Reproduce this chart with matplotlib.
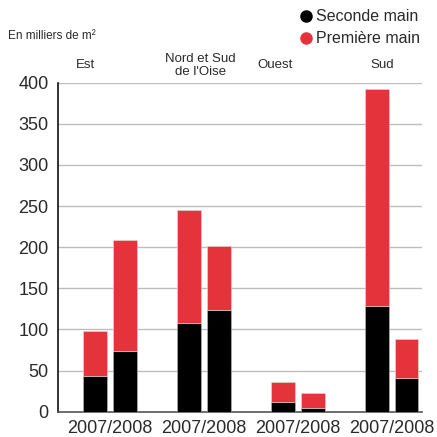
import matplotlib
matplotlib.use("Agg")
import matplotlib.pyplot as plt
import numpy as np

plt.rcParams['font.family'] = ['Liberation Sans', 'DejaVu Sans']

regions = ["Est", "Nord et Sud\nde l'Oise", "Ouest", "Sud"]
period_label = "2007/2008"
# two bars per region: seconde main (bottom) and première main (stacked on top)
seconde_main = [[44, 74], [108, 124], [12, 5], [129, 41]]
totals = [[98, 209], [245, 202], [36, 23], [392, 88]]
premiere_main = [[t - s for t, s in zip(tt, ss)] for tt, ss in zip(totals, seconde_main)]
yticks = [0, 50, 100, 150, 200, 250, 300, 350, 400]

RED = "#e5333b"
BLACK = "#000000"
TEXT = "#2a2a2a"

fig = plt.figure(figsize=(4.37, 4.37), dpi=100)
ax = fig.add_axes([0.1334, 0.0579, 0.8323, 0.7529])

group_x = np.arange(len(regions))
offset = 0.155
width = 0.255
for i in range(len(regions)):
    for j, dx in enumerate([-offset, offset]):
        x = group_x[i] + dx
        ax.bar(x, seconde_main[i][j], width=width, color=BLACK,
               edgecolor="#bbbbbb", linewidth=0.4, zorder=3)
        ax.bar(x, premiere_main[i][j], bottom=seconde_main[i][j], width=width,
               color=RED, edgecolor="#dddddd", linewidth=0.4, zorder=3)

ax.set_ylim(0, 400)
ax.set_xlim(-0.55, 3.32)
ax.set_yticks(yticks)
ax.set_yticklabels([str(v) for v in yticks], fontsize=13, color=TEXT)
ax.yaxis.grid(True, color="#bdbdbd", linewidth=1.0, zorder=0)
ax.set_axisbelow(True)
ax.tick_params(axis="y", length=0, pad=7)
ax.set_xticks(group_x)
ax.set_xticklabels([period_label] * len(regions), fontsize=13, color=TEXT)
ax.tick_params(axis="x", length=0, pad=6)

for s in ["top", "right"]:
    ax.spines[s].set_visible(False)
ax.spines["left"].set_color("#111111")
ax.spines["left"].set_linewidth(1.2)
ax.spines["bottom"].set_color("#555555")
ax.spines["bottom"].set_linewidth(1.2)

# region names above the plotting area
label_x = [-0.265, 0.965, 1.76, 2.895]
for name, lx in zip(regions, label_x):
    ax.text(lx, 421, name, ha="center", va="center", fontsize=9.5,
            color=TEXT, linespacing=1.05)

fig.text(0.018, 0.918, "En milliers de m²", fontsize=8.5, color=TEXT,
         ha="left", va="center")

# legend
fig.lines.append(plt.Line2D([0.700], [0.963], marker="o", markersize=8,
                            color=BLACK, linestyle="none", transform=fig.transFigure))
fig.lines.append(plt.Line2D([0.700], [0.913], marker="o", markersize=8,
                            color=RED, linestyle="none", transform=fig.transFigure))
fig.text(0.722, 0.963, "Seconde main", fontsize=11.5, color=TEXT,
         ha="left", va="center")
fig.text(0.722, 0.913, "Première main", fontsize=11.5, color=TEXT,
         ha="left", va="center")

fig.savefig("out.png", dpi=100)
